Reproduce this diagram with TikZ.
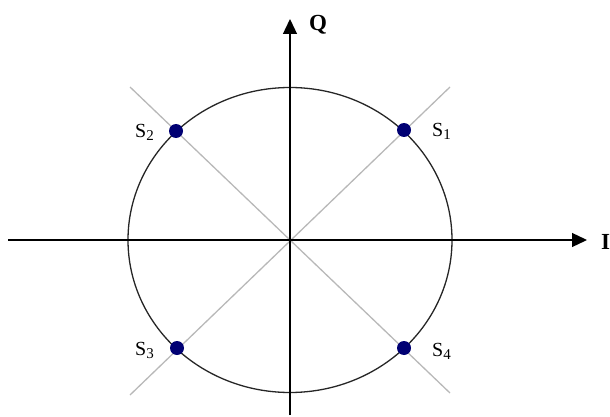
\documentclass[tikz,border=0pt]{standalone}
\usepackage{fontspec}
\setmainfont{Liberation Serif}
\usetikzlibrary{arrows.meta}
\newcommand{\mysub}[1]{\raisebox{-3pt}{\fontsize{15}{16}\selectfont #1}}
\begin{document}
\begin{tikzpicture}[x=1pt,y=-1pt,
  axis/.style={line width=1.3pt,black,-{Triangle[length=15pt,width=14pt]}},
  diag/.style={line width=1.3pt,black!28},
  ring/.style={line width=1.3pt,black!85},
  pt/.style={circle,fill=blue!45!black,inner sep=0pt,minimum size=14pt},
  slabel/.style={font=\fontsize{20}{22}\selectfont,inner sep=0pt},
  axlabel/.style={font=\fontsize{23}{26}\selectfont\bfseries,inner sep=0pt}]
\useasboundingbox (0,0) rectangle (610,417);
\coordinate (O) at (290,240);
\coordinate (UL) at (130,87);
\coordinate (UR) at (450,87);
\coordinate (LL) at (130,395);
\coordinate (LR) at (450,393);
\coordinate (xs) at (8,240);
\coordinate (xe) at (587,240);
\coordinate (ys) at (290,415);
\coordinate (ye) at (290,19);
\draw[diag] (UL) -- (LR);
\draw[diag] (LL) -- (UR);
\draw[ring] (O) ellipse [x radius=162, y radius=152.5];
\draw[axis] (xs) -- (xe);
\draw[axis] (ys) -- (ye);
\node[pt] (s1) at (404,130) {};
\node[pt] (s2) at (176,131) {};
\node[pt] (s3) at (177,348) {};
\node[pt] (s4) at (404,348) {};
\node[slabel,anchor=base west] (l1) at (432,136) {S\mysub{1}};
\node[slabel,anchor=base east] (l2) at (154,137) {S\mysub{2}};
\node[slabel,anchor=base east] (l3) at (154,355) {S\mysub{3}};
\node[slabel,anchor=base west] (l4) at (432,356) {S\mysub{4}};
\node[axlabel,anchor=base west] (q) at (309,31) {Q};
\node[axlabel,anchor=base west] (i) at (601,249) {I};
\end{tikzpicture}
\end{document}
